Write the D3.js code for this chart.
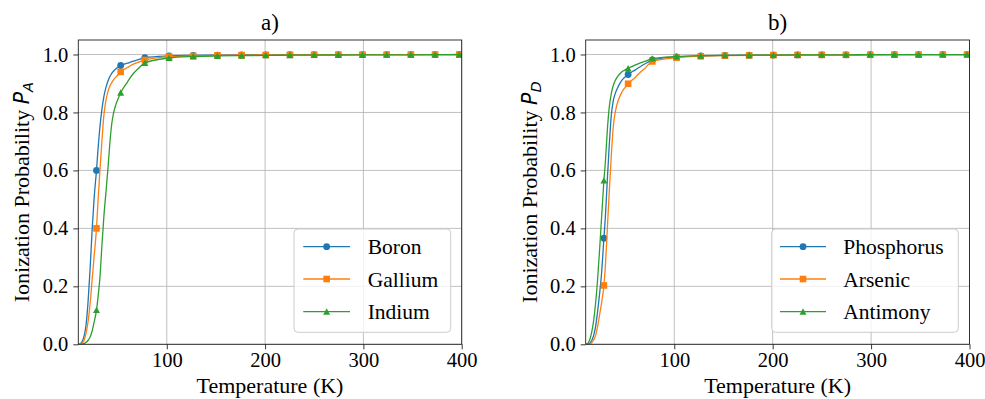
<!DOCTYPE html>
<html><head><meta charset="utf-8">
<script src="https://cdn.jsdelivr.net/npm/d3@7"></script>
<style>
body{margin:0;background:#fff}
text{font-family:"Liberation Serif","Times New Roman",serif;fill:#000}
</style>
</head><body>
<svg id="chart" width="985" height="399"></svg>
<script>
// ---------- data ----------
const lineT   = [10,12,14,16,18,20,22,24,26,30,32,34,36,38,40,42,44,46,48,50,60,65,70,400];
const markerT = [28.5,53.1,77.7,102.3,126.9,151.5,176.1,200.7,225.3,249.9,274.5,299.1,323.7,348.3,372.9,397.5];

const boronLine  = [0,0.002,0.01,0.03,0.07,0.15,0.26,0.39,0.5,0.67,0.75,0.81,0.855,0.885,0.907,0.923,0.935,0.943,0.95,0.955,0.97,0.976,0.981,0.9999];
const boronMarks = [0.60,0.962,0.989,0.995,0.997,0.998,0.9985,0.999,0.9993,0.9995,0.9996,0.9997,0.9997,0.9998,0.9998,0.9999];
const galliumLine  = [0,0.001,0.005,0.015,0.04,0.08,0.14,0.22,0.3,0.49,0.6,0.7,0.79,0.84,0.87,0.89,0.903,0.913,0.921,0.928,0.955,0.965,0.972,0.9998];
const galliumMarks = [0.40,0.94,0.981,0.992,0.995,0.997,0.9978,0.9985,0.9988,0.999,0.9992,0.9994,0.9995,0.9996,0.9997,0.9998];
const indiumLine  = [0,0,0.001,0.003,0.007,0.014,0.025,0.045,0.075,0.16,0.23,0.34,0.44,0.52,0.6,0.69,0.76,0.8,0.825,0.843,0.905,0.93,0.948,0.9993];
const indiumMarks = [0.118,0.868,0.971,0.988,0.993,0.995,0.996,0.997,0.9975,0.998,0.9983,0.9985,0.9988,0.999,0.9992,0.9993];

const phosphorusLine  = [0,0,0.003,0.012,0.03,0.06,0.11,0.17,0.24,0.44,0.57,0.69,0.79,0.84,0.865,0.882,0.896,0.907,0.916,0.922,0.946,0.957,0.967,0.9996];
const phosphorusMarks = [0.366,0.931,0.981,0.992,0.995,0.997,0.9975,0.998,0.9985,0.9988,0.999,0.9992,0.9993,0.9994,0.9995,0.9996];
const arsenicLine  = [0,0,0.001,0.005,0.015,0.03,0.06,0.1,0.14,0.27,0.4,0.53,0.65,0.75,0.8,0.83,0.85,0.865,0.877,0.886,0.92,0.937,0.952,0.9995];
const arsenicMarks = [0.203,0.899,0.976,0.989,0.994,0.996,0.997,0.998,0.9983,0.9986,0.9988,0.999,0.9992,0.9993,0.9994,0.9995];
const antimonyLine  = [0,0.003,0.015,0.04,0.08,0.14,0.22,0.32,0.43,0.63,0.74,0.82,0.865,0.893,0.91,0.922,0.931,0.938,0.943,0.947,0.963,0.97,0.976,0.9997];
const antimonyMarks = [0.565,0.952,0.986,0.993,0.996,0.997,0.9975,0.998,0.9985,0.9988,0.999,0.9992,0.9994,0.9995,0.9996,0.9997];

const xTicks = [100,200,300,400];
const yTicks = [0,0.2,0.4,0.6,0.8,1.0];
const xDomain = [10,400];
const yDomain = [0,1.05];

// ---------- layout / style ----------
const colors = {blue:"#1f77b4", orange:"#ff7f0e", green:"#2ca02c"};
const TICK_FS = 20.5, LABEL_FS = 22, LEG_FS = 21.5, TITLE_FS = 23;
const plotTop = 40, plotBottom = 344.3;

const panels = [
  {title:"a)", sub:"A", left:78.3, right:461.7, ylabX:29,
   legend:{x0:294, y0:229, x1:450.7, y1:332.3, lx0:303.3, lx1:350, tx:367.7, ly:[246.7,279,311.7]},
   series:[
     {name:"Boron",   line:boronLine,   marks:boronMarks,   color:colors.blue,   shape:"circle"},
     {name:"Gallium", line:galliumLine, marks:galliumMarks, color:colors.orange, shape:"square"},
     {name:"Indium",  line:indiumLine,  marks:indiumMarks,  color:colors.green,  shape:"triangle"}]},
  {title:"b)", sub:"D", left:585.7, right:969.5, ylabX:537,
   legend:{x0:771.7, y0:229, x1:958.3, y1:332.3, lx0:780, lx1:826, tx:843.3, ly:[246.7,279,311.7]},
   series:[
     {name:"Phosphorus", line:phosphorusLine, marks:phosphorusMarks, color:colors.blue,   shape:"circle"},
     {name:"Arsenic",    line:arsenicLine,    marks:arsenicMarks,    color:colors.orange, shape:"square"},
     {name:"Antimony",   line:antimonyLine,   marks:antimonyMarks,   color:colors.green,  shape:"triangle"}]}
];

const svg = d3.select("#chart");

function drawMarker(g, shape, color, x, y){
  if(shape==="circle"){
    g.append("circle").attr("cx",x).attr("cy",y).attr("r",3.4).attr("fill",color);
  } else if(shape==="square"){
    g.append("rect").attr("x",x-3.3).attr("y",y-3.3).attr("width",6.6).attr("height",6.6).attr("fill",color);
  } else {
    g.append("path").attr("d",`M${x},${y-3.4}L${x+3.5},${y+3}L${x-3.5},${y+3}Z`).attr("fill",color);
  }
}

panels.forEach((p,pi)=>{
  const x = d3.scaleLinear().domain(xDomain).range([p.left,p.right]);
  const y = d3.scaleLinear().domain(yDomain).range([plotBottom,plotTop]);
  const g = svg.append("g");

  // grid
  g.append("g").selectAll("line").data(xTicks).join("line")
    .attr("x1",d=>x(d)).attr("x2",d=>x(d)).attr("y1",plotTop).attr("y2",plotBottom)
    .attr("stroke","#b0b0b0").attr("stroke-width",0.8);
  g.append("g").selectAll("line").data(yTicks).join("line")
    .attr("x1",p.left).attr("x2",p.right).attr("y1",d=>y(d)).attr("y2",d=>y(d))
    .attr("stroke","#b0b0b0").attr("stroke-width",0.8);

  // clip
  const cid = "clip"+pi;
  svg.append("clipPath").attr("id",cid).append("rect")
    .attr("x",p.left).attr("y",plotTop).attr("width",p.right-p.left).attr("height",plotBottom-plotTop);
  const plot = g.append("g").attr("clip-path",`url(#${cid})`);

  const lineGen = d3.line().x(d=>x(d[0])).y(d=>y(d[1])).curve(d3.curveMonotoneX);
  p.series.forEach(s=>{
    const pts = lineT.map((t,i)=>[t,s.line[i]]).concat(markerT.map((t,i)=>[t,s.marks[i]]));
    pts.sort((a,b)=>a[0]-b[0]);
    plot.append("path").datum(pts).attr("d",lineGen)
      .attr("fill","none").attr("stroke",s.color).attr("stroke-width",1.3);
    const mg = plot.append("g");
    markerT.forEach((t,i)=>drawMarker(mg, s.shape, s.color, x(t), y(s.marks[i])));
  });

  // axes
  const xa = g.append("g").attr("transform",`translate(0,${plotBottom})`)
    .call(d3.axisBottom(x).tickValues(xTicks).tickFormat(d3.format("d")).tickSize(5).tickPadding(3));
  const ya = g.append("g").attr("transform",`translate(${p.left},0)`)
    .call(d3.axisLeft(y).tickValues(yTicks).tickFormat(d3.format(".1f")).tickSize(5).tickPadding(5));
  [xa,ya].forEach(a=>{
    a.select(".domain").remove();
    a.selectAll("line").attr("stroke","#000").attr("stroke-width",0.8);
    a.selectAll("text").attr("font-size",TICK_FS).attr("font-family","Liberation Serif");
  });

  // frame
  g.append("rect").attr("x",p.left).attr("y",plotTop).attr("width",p.right-p.left).attr("height",plotBottom-plotTop)
    .attr("fill","none").attr("stroke","#222").attr("stroke-width",0.9);

  // legend
  const L = p.legend;
  g.append("rect").attr("x",L.x0).attr("y",L.y0).attr("width",L.x1-L.x0).attr("height",L.y1-L.y0)
    .attr("rx",4).attr("fill","#fff").attr("fill-opacity",0.8).attr("stroke","#cccccc").attr("stroke-width",1);
  p.series.forEach((s,i)=>{
    const ly = L.ly[i];
    g.append("line").attr("x1",L.lx0).attr("x2",L.lx1).attr("y1",ly).attr("y2",ly)
      .attr("stroke",s.color).attr("stroke-width",1.3);
    drawMarker(g, s.shape, s.color, (L.lx0+L.lx1)/2, ly);
    g.append("text").attr("x",L.tx).attr("y",ly+7.5).attr("font-size",LEG_FS).text(s.name);
  });

  // title
  const cx = (p.left+p.right)/2;
  g.append("text").attr("x",cx).attr("y",30).attr("text-anchor","middle").attr("font-size",TITLE_FS).text(p.title);
  // x label
  g.append("text").attr("x",cx).attr("y",393).attr("text-anchor","middle").attr("font-size",LABEL_FS).text("Temperature (K)");
  // y label
  const yl = g.append("text").attr("transform",`translate(${p.ylabX},${(plotTop+plotBottom)/2}) rotate(-90)`)
    .attr("text-anchor","middle").attr("font-size",LABEL_FS);
  yl.append("tspan").text("Ionization Probability ");
  yl.append("tspan").attr("font-family","DejaVu Sans").attr("font-style","italic").attr("font-size",20.5).text("P");
  yl.append("tspan").attr("font-family","DejaVu Sans").attr("font-style","italic").attr("font-size",14.5).attr("dy",4).text(p.sub);
});
</script>
</body></html>
